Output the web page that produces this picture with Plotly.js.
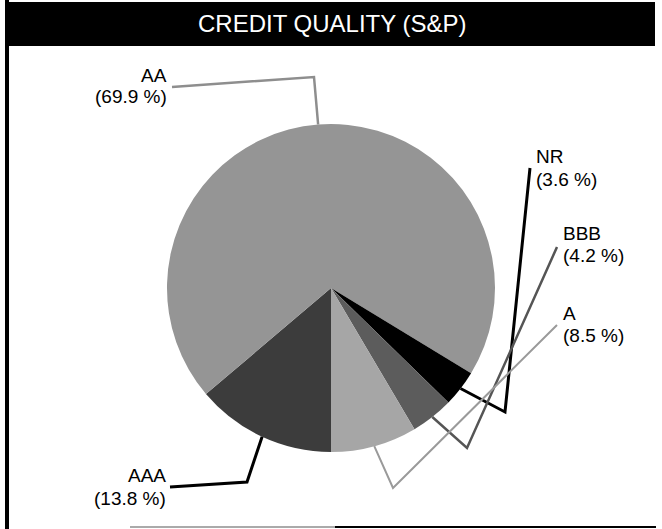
<!DOCTYPE html>
<html>
<head>
<meta charset="utf-8">
<script src="https://cdn.plot.ly/plotly-3.0.1.min.js"></script>
<style>html,body{margin:0;padding:0;background:#fff;}#chart{width:662px;height:529px;}</style>
</head>
<body>
<div id="chart"></div>
<script>
// ---- data ----
const chartTitle = 'CREDIT QUALITY (S&amp;P)';
const categories = ['AAA', 'AA', 'NR', 'BBB', 'A'];
const shares = [13.8, 69.9, 3.6, 4.2, 8.5];

// ---- styles / layout geometry ----
const W = 662, H = 529;
const sliceColors = ['#3c3c3c', '#959595', '#000000', '#5c5c5c', '#a6a6a6'];
const leaderColors = ['#000000', '#8e8e8e', '#000000', '#555555', '#9a9a9a'];
const leaderWidths = [3, 2.5, 3, 2.5, 2];
const pieCenter = [331, 288];
const pieRadius = 164;
// label placement (pixels): side, text x, line1 y, line2 y, bend points, leader end
const labelSpec = [
  {side: 'right', x: 168, y1: 475, y2: 498, bends: [[247, 482]], end: [170, 487]},
  {side: 'right', x: 169, y1: 75,  y2: 97,  bends: [[314, 77]],  end: [172, 87]},
  {side: 'left',  x: 534, y1: 157, y2: 179, bends: [[505, 412]], end: [530, 168]},
  {side: 'left',  x: 561, y1: 233, y2: 256, bends: [[467, 448]], end: [557, 247]},
  {side: 'left',  x: 561, y1: 313, y2: 335, bends: [[393, 488]], end: [557, 325]}
];
const labelFont = {family: 'Liberation Sans, Arial, sans-serif', size: 19, color: '#000'};

const px = x => x / W;
const py = y => 1 - y / H;

const total = shares.reduce((a, b) => a + b, 0);
const shapes = [];
const annotations = [];

// frame pieces
shapes.push({type: 'rect', xref: 'paper', yref: 'paper', x0: px(5), x1: px(9), y0: py(529), y1: py(0),
  fillcolor: '#000', line: {width: 0}});
shapes.push({type: 'rect', xref: 'paper', yref: 'paper', x0: px(9), x1: px(655), y0: py(46), y1: py(2),
  fillcolor: '#000', line: {width: 0}});
shapes.push({type: 'line', xref: 'paper', yref: 'paper', x0: px(130), x1: px(335), y0: py(527), y1: py(527),
  line: {color: '#aaaaaa', width: 2}});
shapes.push({type: 'line', xref: 'paper', yref: 'paper', x0: px(335), x1: px(656), y0: py(527), y1: py(527),
  line: {color: '#000', width: 2}});

annotations.push({xref: 'paper', yref: 'paper', x: px(332), y: py(24), xanchor: 'center', yanchor: 'middle',
  text: chartTitle, showarrow: false,
  font: {family: 'Liberation Sans, Arial, sans-serif', size: 24, color: '#fff'}});

// leaders and labels from data (clockwise from 6 o'clock)
let cum = 0;
categories.forEach((cat, i) => {
  const mid = (cum + shares[i] / 2) / total;
  cum += shares[i];
  const theta = (180 + mid * 360) * Math.PI / 180;
  const ax = pieCenter[0] + pieRadius * Math.sin(theta);
  const ay = pieCenter[1] - pieRadius * Math.cos(theta);
  const s = labelSpec[i];
  const pts = [[ax, ay]].concat(s.bends, [s.end]);
  const path = pts.map((p, k) => (k ? 'L' : 'M') + px(p[0]).toFixed(5) + ',' + py(p[1]).toFixed(5)).join(' ');
  shapes.push({type: 'path', xref: 'paper', yref: 'paper', path: path,
    line: {color: leaderColors[i], width: leaderWidths[i]}});
  const xa = s.side === 'left' ? 'left' : 'right';
  annotations.push({xref: 'paper', yref: 'paper', x: px(s.x), y: py(s.y1), xanchor: xa, yanchor: 'middle',
    text: cat, showarrow: false, font: labelFont});
  annotations.push({xref: 'paper', yref: 'paper', x: px(s.x), y: py(s.y2), xanchor: xa, yanchor: 'middle',
    text: '(' + shares[i].toFixed(1) + ' %)', showarrow: false, font: labelFont});
});

const trace = {
  type: 'pie',
  labels: categories,
  values: shares,
  sort: false,
  direction: 'clockwise',
  rotation: 180,
  textinfo: 'none',
  hoverinfo: 'none',
  showlegend: false,
  marker: {colors: sliceColors, line: {width: 0}},
  domain: {
    x: [px(pieCenter[0] - pieRadius), px(pieCenter[0] + pieRadius)],
    y: [py(pieCenter[1] + pieRadius), py(pieCenter[1] - pieRadius)]
  }
};

const layout = {
  width: W, height: H,
  margin: {l: 0, r: 0, t: 0, b: 0, pad: 0, autoexpand: false},
  paper_bgcolor: '#fff',
  plot_bgcolor: '#fff',
  showlegend: false,
  shapes: shapes,
  annotations: annotations
};

Plotly.newPlot('chart', [trace], layout, {displayModeBar: false, staticPlot: true});
</script>
</body>
</html>
